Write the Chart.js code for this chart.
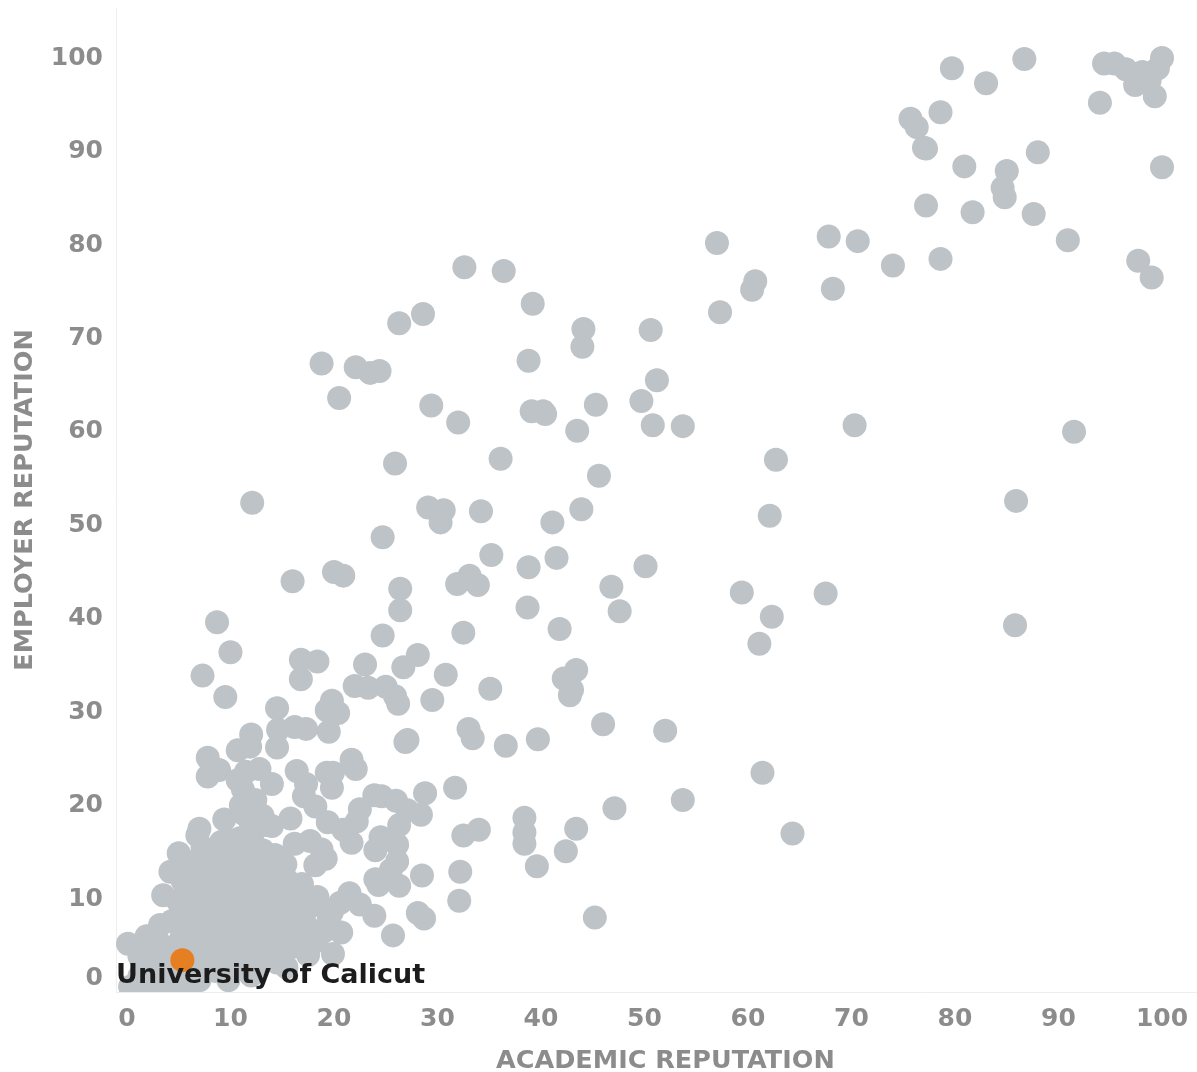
<!DOCTYPE html>
<html>
<head>
<meta charset="utf-8">
<script src="https://cdn.jsdelivr.net/npm/chart.js@4"></script>
<style>
    html, body { margin: 0; padding: 0; background: #fff; }
    canvas { display: block; }
</style>
</head>
<body>
<canvas id="scatterChart" width="1197" height="1072"></canvas>
<script>
// Scores, academic[i] goes with employer[i]
const academic = [
    100, 99.6, 99.3, 94, 94.4, 95.4, 96.5, 97.4, 98.1, 98.8,
    86.7, 79.7, 83, 75.7, 76.3, 78.6, 77, 77.2, 88, 80.9,
    85, 100, 84.6, 84.8, 77.2, 81.7, 87.6, 90.9, 97.7, 99,
    78.6, 74, 70.6, 67.8, 57, 60.7, 60.4, 68.2, 57.3, 50.6,
    44.1, 44, 39.2, 36.4, 32.6, 28.6, 26.3, 18.8, 22.1, 23.5,
    24.4, 20.5, 38.8, 51.2, 49.7, 45.3, 29.4, 32, 39.1, 40.2,
    40.4, 43.5, 50.8, 53.7, 70.3, 91.5, 62.7, 25.9, 36.1, 45.6,
    85.9, 12.1, 29.1, 30.6, 30.3, 34.2, 43.9, 62.1, 41.1, 24.7,
    35.2, 41.5, 38.8, 50.1, 20, 20.9, 16, 33.1, 31.9, 33.9,
    26.4, 46.8, 59.4, 67.5, 26.4, 38.7, 47.6, 62.3, 8.7, 85.8,
    24.7, 32.5, 41.8, 61.1, 10, 28.1, 16.8, 18.4, 23, 26.7,
    7.3, 16.8, 30.8, 43.4, 42.2, 43, 42.8, 22, 23.3, 25,
    35.1, 25.9, 26.2, 29.5, 9.5, 19.8, 19.3, 20.4, 14.5, 46,
    52, 33, 33.4, 39.7, 36.6, 26.9, 27.1, 14.6, 16.2, 17.3,
    19.5, 12, 14.5, 11.9, 10.7, 7.8, 8.9, 7.8, 21.7, 22.1,
    16.4, 19.3, 19.9, 12.8, 11.5, 10.7, 11.2, 14, 17.3, 19.8,
    17.1, 18.2, 31.7, 28.8, 23.9, 24.6, 26, 27.1, 22.5, 53.7,
    61.4, 47.1, 38.4, 38.4, 38.4, 43.4, 34, 32.5, 64.3, 42.4,
    39.6, 28.4, 26.3, 22.2, 24.5, 26.1, 24, 26.1, 25.5, 21.7,
    20.9, 19.4, 15.8, 28.5, 32.2, 24, 24.3, 26.3, 21.5, 19.2,
    32.1, 20.6, 22.5, 23.9, 28.1, 28.7, 45.2, 25.7, 19.9, 20.7,
    19.8, 19.6, 17.2, 17.7,
    0.1, 1.9, 3.2, 3.5, 4.2, 5, 6.8, 7, 0.3, 1.2,
    2.6, 3.9, 5.2, 7, 9.8, 9.4, 11.4, 11, 12.4, 13.3,
    12.1, 13.1, 14.3, 16.2, 17.7, 18.8, 15.3, 2.5, 4.2, 7.8,
    9.1, 11, 12.8, 14.5, 15.4, 17.5, 16.2, 1.2, 3.1, 5.2,
    6.9, 8.5, 10.2, 12.1, 13.8, 15.6, 18.3, 4.3, 5.9, 7.5,
    9.3, 10.9, 12.7, 14.4, 16.1, 17.2, 19, 4.9, 6.7, 8.3,
    10, 11.7, 13.4, 15.1, 16.6, 5.4, 7.2, 9, 10.7, 12.4,
    14.1, 15.8, 16.9, 6.1, 8, 9.7, 11.5, 13.2, 14.9, 7.3,
    9.1, 10.9, 11.5, 18.2, 18.4, 13.1, 14, 17.6, 19.5,
    3, 5, 6.5, 8.5, 10.5, 12, 13.6, 15, 5.5, 6.2,
    8, 9.5, 11.2, 13, 14.8, 16.8, 6.5, 8.4, 10.1, 11.8,
    13.5, 15.2, 5.2, 7, 9, 10.8, 12.5, 14.3, 15.9, 5.9,
    7.6, 9.4, 11, 12.8, 14.6, 16, 6.4, 8.4, 10.1, 11.9,
    13.7, 15.4, 7, 8.9, 10.7, 12.5, 9.9, 11.9,
    1.5, 2, 4, 6
];
const employer = [
    99.7, 98.6, 95.6, 94.9, 99.1, 99.1, 98.5, 96.8, 98.2, 97.3,
    99.6, 98.6, 97, 93.2, 92.3, 93.9, 90.1, 90, 89.6, 88.1,
    87.6, 88, 85.8, 84.8, 83.9, 83.2, 83, 80.2, 78, 76.2,
    78.2, 77.5, 80.1, 80.6, 79.9, 75.8, 74.9, 75, 72.5, 70.6,
    70.7, 68.8, 73.4, 76.9, 77.3, 72.3, 71.3, 67, 66.6, 66,
    66.2, 63.3, 67.3, 65.2, 63, 62.6, 62.5, 60.7, 61.9, 61.9,
    61.6, 59.8, 60.4, 60.3, 60.4, 59.7, 56.7, 56.3, 56.8, 55,
    52.3, 52.1, 51.6, 51.3, 50, 51.2, 51.4, 50.7, 50, 48.4,
    46.5, 46.2, 45.2, 45.3, 44.7, 44.3, 43.7, 44.3, 43.4, 43.3,
    42.9, 43.1, 42.5, 42.4, 40.6, 40.9, 40.5, 39.9, 39.3, 39,
    37.9, 38.2, 38.6, 37, 36.1, 35.8, 35.3, 35.1, 34.8, 34.5,
    33.6, 33.2, 33.7, 34.2, 33.3, 32.1, 31.5, 32.5, 32.3, 32.4,
    32.2, 31.4, 30.6, 31, 31.3, 30.9, 29.9, 29.6, 30.1, 28.4,
    27.7, 27.9, 26.9, 26.8, 26.1, 26.5, 26.7, 27.8, 28.1, 27.9,
    27.6, 27.3, 25.9, 26, 25.6, 24.8, 23.5, 22.8, 24.6, 23.6,
    23.4, 23.2, 23.2, 23.6, 23.3, 22.4, 21.4, 22, 22, 21.6,
    20.7, 19.6, 21.6, 21, 20.8, 20.7, 20.2, 19.2, 19.3, 20.3,
    23.2, 19.4, 18.4, 16.8, 15.6, 17.2, 17.1, 16.5, 16.7, 14.8,
    13.2, 18.7, 17.6, 18, 16.3, 15.5, 14.9, 13.7, 12.8, 15.7,
    17.1, 17.9, 18.3, 12.2, 12.6, 11.8, 11.2, 11.1, 10.3, 14,
    9.5, 9.3, 9.1, 7.9, 8.2, 7.6, 7.7, 5.8, 3.8, 6.1,
    8.3, 6.9, 9.8, 8.9,
    4.9, 5.7, 6.9, 10.1, 12.6, 14.6, 16.5, 17.2, 0.3, 1.4,
    0.6, 1.6, 0.4, 1, 1, 18.2, 18.7, 19.7, 20.3, 17.6,
    16, 14.9, 14.4, 15.6, 15.9, 15, 13.4, 3.2, 3.9, 3,
    2.9, 3.4, 2.6, 2.9, 2.4, 3.7, 4.6, 3.6, 5, 5.4,
    4.8, 5.1, 4.7, 5.3, 4.9, 5.6, 5.2, 7.3, 8, 6.9,
    7.4, 6.8, 7.5, 7, 6.6, 7.1, 6.2, 9.5, 10.2, 9.2,
    9.7, 9.1, 9.6, 8.9, 8.6, 11.6, 12.4, 11.3, 11.9, 11.2,
    11.5, 10.9, 11.3, 13.6, 14.1, 13.4, 13.9, 12.8, 12.1, 15.2,
    15.8, 16.2, 15.3, 13.3, 9.9, 18.6, 17.5, 6.5, 7.8,
    2, 2.5, 2, 2, 2.2, 1.5, 3.8, 4, 6.8, 4,
    4.2, 4, 4.6, 4, 4.3, 5.7, 6.5, 6.2, 5.9, 6.3,
    6.1, 5.9, 8.7, 8.6, 8.4, 8.2, 8.6, 8.2, 7.8, 10,
    10.8, 10.2, 10.6, 10.3, 10, 9.7, 12.3, 12.6, 12.5, 12.7,
    12.2, 11.8, 13.9, 14.6, 14.7, 14.2, 16, 17,
    0.1, 0.3, 0.2, 0.3
];

const highlightName = 'University of Calicut';
const highlightAcademic = [5.35];
const highlightEmployer = [3.15];

const xTicks = [0, 10, 20, 30, 40, 50, 60, 70, 80, 90, 100];
const yTicks = [0, 10, 20, 30, 40, 50, 60, 70, 80, 90, 100];

// y labels sit slightly below their value in the reference
const yLabelNudge = 0.32;

const toPoints = (xs, ys) => xs.map((x, i) => ({ x: x, y: ys[i] }));

// Writes the university name under the orange point
const nameLabel = {
    id: 'nameLabel',
    afterDatasetsDraw(chart) {
        const point = chart.getDatasetMeta(0).data[0];
        const ctx = chart.ctx;
        ctx.save();
        ctx.font = 'bold 27px "DejaVu Sans"';
        ctx.fillStyle = '#1c1c1c';
        ctx.textAlign = 'left';
        ctx.textBaseline = 'middle';
        ctx.fillText(highlightName, chart.chartArea.left, point.y + 15.5);
        ctx.restore();
    }
};

const ctx = document.getElementById('scatterChart').getContext('2d');
new Chart(ctx, {
    type: 'scatter',
    data: {
        datasets: [{
            label: highlightName,
            data: toPoints(highlightAcademic, highlightEmployer),
            backgroundColor: '#e67e22',
            pointRadius: 12,
            borderWidth: 0,
            order: 0
        }, {
            label: 'Universities',
            data: toPoints(academic, employer),
            backgroundColor: '#bdc3c7',
            pointRadius: 12,
            borderWidth: 0,
            order: 1
        }]
    },
    options: {
        responsive: false,
        animation: false,
        devicePixelRatio: 1,
        layout: { autoPadding: false, padding: { top: 8, right: 0, bottom: 0, left: 0 } },
        plugins: {
            legend: { display: false },
            tooltip: { enabled: false }
        },
        scales: {
            x: {
                type: 'linear',
                min: -1.06,
                max: 103.38,
                afterBuildTicks: scale => { scale.ticks = xTicks.map(v => ({ value: v })); },
                afterFit: scale => {
                    scale.height = 80;
                    scale.paddingLeft = 0;
                    scale.paddingRight = 0;
                },
                grid: { display: false, drawTicks: false },
                border: { display: true, color: '#eeeeee', width: 1 },
                ticks: {
                    autoSkip: false,
                    maxRotation: 0,
                    padding: 12,
                    color: '#8c8c8c',
                    font: { family: 'DejaVu Sans', size: 25, weight: 'bold' }
                },
                title: {
                    display: true,
                    text: '  ACADEMIC REPUTATION',
                    color: '#8c8c8c',
                    padding: { top: 0, bottom: -2 },
                    font: { family: 'DejaVu Sans', size: 25.5, weight: 'bold', lineHeight: 1 }
                }
            },
            y: {
                type: 'linear',
                min: -0.26,
                max: 105.05,
                afterBuildTicks: scale => { scale.ticks = yTicks.map(v => ({ value: v - yLabelNudge })); },
                afterFit: scale => {
                    scale.width = 116;
                    scale.paddingTop = 0;
                    scale.paddingBottom = 0;
                },
                grid: { display: false, drawTicks: false },
                border: { display: true, color: '#eeeeee', width: 1 },
                ticks: {
                    autoSkip: false,
                    padding: 13,
                    color: '#8c8c8c',
                    font: { family: 'DejaVu Sans', size: 25, weight: 'bold', lineHeight: 1.15 },
                    // the 0 label sits a little above its tick
                    callback: (v, i) => (yTicks[i] === 0 ? ['0', ''] : String(yTicks[i]))
                },
                title: {
                    display: true,
                    text: 'EMPLOYER REPUTATION',
                    color: '#8c8c8c',
                    padding: { top: 13, bottom: 0 },
                    font: { family: 'DejaVu Sans', size: 25.5, weight: 'bold', lineHeight: 1 }
                }
            }
        }
    },
    plugins: [nameLabel]
});
</script>
</body>
</html>
